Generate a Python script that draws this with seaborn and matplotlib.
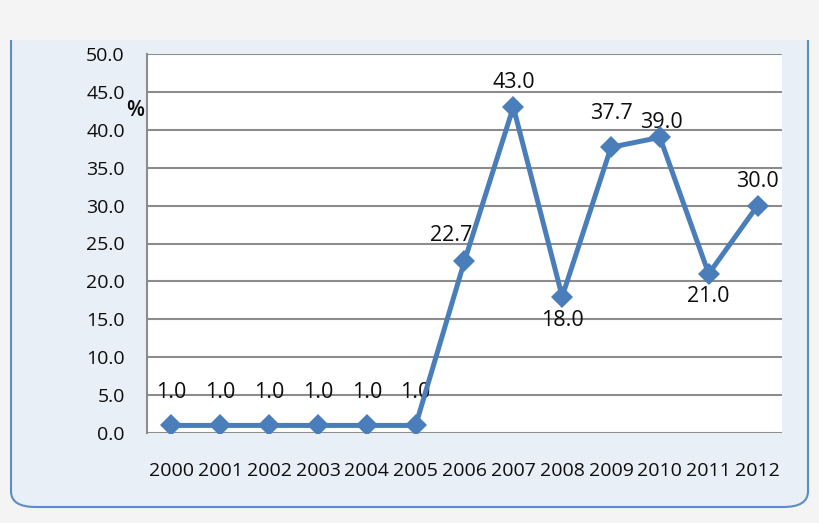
import pandas as pd
import numpy as np
import matplotlib.pyplot as plt
import seaborn as sb
from matplotlib.patches import FancyBboxPatch, Rectangle

years = ["2000", "2001", "2002", "2003", "2004", "2005", "2006",
         "2007", "2008", "2009", "2010", "2011", "2012"]
values = [1.0, 1.0, 1.0, 1.0, 1.0, 1.0, 22.7, 43.0, 18.0, 37.7, 39.0, 21.0, 30.0]
labels = ["1.0", "1.0", "1.0", "1.0", "1.0", "1.0", "22.7",
          "43.0", "18.0", "37.7", "39.0", "21.0", "30.0"]
yticks = [0, 5, 10, 15, 20, 25, 30, 35, 40, 45, 50]

# label offsets in pixels (dx, dy)
label_offsets = [(0, 33)] * 6 + [(-13, 25), (0, 25), (0, -24), (0, 34),
                                  (2, 15), (0, -23), (0, 24)]

df = pd.DataFrame({"year": years, "value": values})

sb.set_style("white")
plt.rcParams["font.family"] = ["Open Sans", "DejaVu Sans"]

fig = plt.figure(figsize=(8.2, 5.23), dpi=100)
fig.patch.set_facecolor("#f4f4f4")

# rounded panel behind the chart
panel = FancyBboxPatch((11 / 820, 16 / 523), 797 / 820, 500 / 523,
                       boxstyle="round,pad=0,rounding_size=0.03",
                       transform=fig.transFigure, facecolor="#e9eff7",
                       edgecolor="#5b8cc8", linewidth=1.5, zorder=0)
fig.patches.append(panel)
fig.patches.append(Rectangle((0, 483 / 523), 1, 40 / 523, transform=fig.transFigure,
                             facecolor="#f4f4f4", edgecolor="none", zorder=1))

ax = fig.add_axes([147 / 820, 90 / 523, 635 / 820, 379 / 523])
ax.set_facecolor("white")
ax.set_zorder(2)

sb.lineplot(data=df, x="year", y="value", ax=ax, color="#4a7ebb", linewidth=3.6,
            marker="D", markersize=11.5, markeredgewidth=0, sort=False, zorder=5)

for i, (lab, val) in enumerate(zip(labels, values)):
    dx, dy = label_offsets[i]
    ax.annotate(lab, (i, val), xytext=(dx, dy), textcoords="offset pixels",
                ha="center", va="center", fontsize=15.5, color="#0d0d0d", zorder=3)

ax.set_xlim(-0.5, 12.5)
ax.set_ylim(0, 50)
ax.set_yticks(yticks)
ax.set_yticklabels([f"{t:.1f}" for t in yticks])
ax.yaxis.grid(True, color="#8c8c8c", linewidth=1.5)
ax.xaxis.grid(False)
ax.tick_params(axis="both", length=0, labelsize=14, colors="#0d0d0d")
ax.tick_params(axis="y", pad=16)
ax.tick_params(axis="x", pad=21)
for side in ["top", "right", "bottom"]:
    ax.spines[side].set_visible(False)
ax.spines["left"].set_color("#8c8c8c")
ax.spines["left"].set_linewidth(1.5)
ax.set_xlabel("")
ax.set_ylabel("")

fig.text(135 / 820, 1 - 110 / 523, "%", ha="center", va="center",
         fontsize=15, fontweight="semibold", color="#0d0d0d")

plt.savefig("out.png", dpi=100)
plt.close()
